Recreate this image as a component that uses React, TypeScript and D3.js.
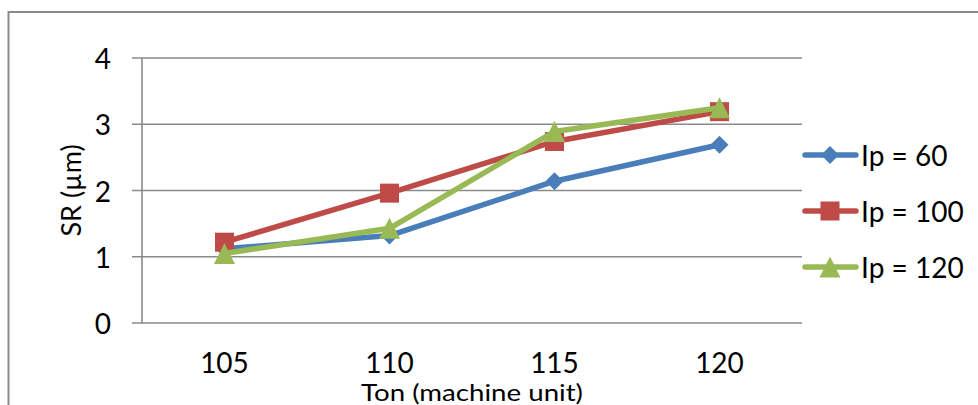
import React from "react";
import * as d3 from "d3";

const categories = ["105", "110", "115", "120"];
const seriesNames = ["Ip = 60", "Ip = 100", "Ip = 120"];
const ip60 = [1.12, 1.32, 2.14, 2.69];
const ip100 = [1.22, 1.96, 2.74, 3.19];
const ip120 = [1.05, 1.43, 2.89, 3.25];
const yTicks = [0, 1, 2, 3, 4];
const colors = ["#4A7EBB", "#BE4B48", "#98B954"];

const W = 978;
const H = 405;
const plot = { left: 142, right: 802, top: 58, bottom: 323 };
const FONT = "Lato, 'Open Sans', sans-serif";

function Marker({ kind, x, y, color }: { kind: number; x: number; y: number; color: string }) {
  if (kind === 0) {
    const s = 9;
    return <path d={`M${x},${y - s}L${x + s},${y}L${x},${y + s}L${x - s},${y}Z`} fill={color} />;
  }
  if (kind === 1) {
    const s = 9.5;
    return <rect x={x - s} y={y - s} width={2 * s} height={2 * s} fill={color} />;
  }
  const hw = 10.5;
  const hh = 10.5;
  return <path d={`M${x},${y - hh}L${x + hw},${y + hh}L${x - hw},${y + hh}Z`} fill={color} />;
}

export default function App() {
  const x = d3.scaleBand<string>().domain(categories).range([plot.left, plot.right]);
  const y = d3.scaleLinear().domain([0, 4]).range([plot.bottom, plot.top]);
  const cx = (c: string) => (x(c) as number) + x.bandwidth() / 2;
  const data = [ip60, ip100, ip120];
  const line = d3
    .line<number>()
    .x((_, i) => cx(categories[i]))
    .y((v) => y(v));

  const legendY = [155, 211, 267];

  return (
    <svg
      width={W}
      height={H}
      style={{ position: "absolute", left: 0, top: 0, background: "#fff" }}
      fontFamily={FONT}
    >
      <rect x={0} y={0} width={W} height={H} fill="#fff" />
      <rect x={8.5} y={12} width={1000} height={500} fill="none" stroke="#8a8a8a" strokeWidth={2} />
      {yTicks.map((t) => (
        <g key={t}>
          <line x1={132} x2={plot.right} y1={y(t)} y2={y(t)} stroke="#8a8a8a" strokeWidth={1.6} />
          <text x={111} y={y(t)} textAnchor="end" dominantBaseline="central" fontSize={28} fill="#000">
            {t}
          </text>
        </g>
      ))}
      <line x1={plot.left} x2={plot.left} y1={plot.top} y2={plot.bottom} stroke="#8a8a8a" strokeWidth={1.6} />
      {categories.map((c) => (
        <text key={c} x={cx(c)} y={373} textAnchor="middle" fontSize={28} fill="#000">
          {c}
        </text>
      ))}
      <text
        x={(plot.left + plot.right) / 2}
        y={401}
        textAnchor="middle"
        fontSize={24}
        textLength={222}
        lengthAdjust="spacingAndGlyphs"
        fill="#000"
      >
        Ton (machine unit)
      </text>
      <text
        transform={`translate(70,${(plot.top + plot.bottom) / 2}) rotate(-90)`}
        textAnchor="middle"
        dominantBaseline="central"
        fontSize={27}
        fill="#000"
      >
        SR (µm)
      </text>
      {data.map((vals, si) => (
        <g key={si}>
          <path d={line(vals) || ""} fill="none" stroke={colors[si]} strokeWidth={5.5} strokeLinejoin="round" strokeLinecap="round" />
          {vals.map((v, i) => (
            <Marker key={i} kind={si} x={cx(categories[i])} y={y(v)} color={colors[si]} />
          ))}
        </g>
      ))}
      {seriesNames.map((n, si) => (
        <g key={n}>
          <line x1={805} x2={856} y1={legendY[si]} y2={legendY[si]} stroke={colors[si]} strokeWidth={5.5} strokeLinecap="round" />
          <Marker kind={si} x={830} y={legendY[si]} color={colors[si]} />
          <text x={861} y={legendY[si]} dominantBaseline="central" fontSize={28} fill="#000">
            {n}
          </text>
        </g>
      ))}
    </svg>
  );
}
